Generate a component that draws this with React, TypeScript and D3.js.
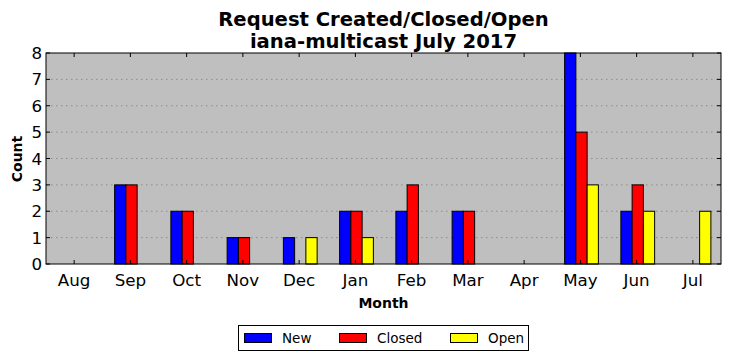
import React from 'react';
import { scaleLinear } from 'd3';

const months = ['Aug', 'Sep', 'Oct', 'Nov', 'Dec', 'Jan', 'Feb', 'Mar', 'Apr', 'May', 'Jun', 'Jul'];
const newCounts = [0, 3, 2, 1, 1, 2, 2, 2, 0, 8, 2, 0];
const closedCounts = [0, 3, 2, 1, 0, 2, 3, 2, 0, 5, 3, 0];
const openCounts = [0, 0, 0, 0, 1, 1, 0, 0, 0, 3, 2, 2];
const yTicks = [0, 1, 2, 3, 4, 5, 6, 7, 8];

const series = [
  { name: 'New', values: newCounts, color: '#0000ff', offset: -0.28 },
  { name: 'Closed', values: closedCounts, color: '#ff0000', offset: -0.08 },
  { name: 'Open', values: openCounts, color: '#ffff00', offset: 0.12 },
];

const left = 46;
const right = 721;
const top = 53;
const bottom = 264;
const font = 'DejaVu Sans';

const App = () => {
  const x = scaleLinear().domain([-0.5, 11.5]).range([left, right]);
  const y = scaleLinear().domain([0, 8]).range([bottom, top]);
  const barW = x(0.2) - x(0);

  return (
    <svg width={731} height={361} style={{ position: 'absolute', left: 0, top: 0 }}>
      <rect width={731} height={361} fill='#ffffff' />
      <rect x={left} y={top} width={right - left} height={bottom - top} fill='#bfbfbf' />
      {yTicks.slice(1, -1).map((t) => (
        <line
          key={'g' + t}
          x1={left}
          x2={right}
          y1={y(t)}
          y2={y(t)}
          stroke='#808080'
          strokeWidth={0.8}
          strokeDasharray='1.5,3.5'
        />
      ))}
      {series.map((s) =>
        s.values.map((v, i) => (
          <rect
            key={s.name + i}
            x={x(i + s.offset)}
            y={y(v)}
            width={barW}
            height={y(0) - y(v)}
            fill={s.color}
            stroke='#000000'
            strokeWidth={1}
          />
        ))
      )}
      {/* ticks, inside on all sides */}
      {months.map((m, i) => (
        <g key={m}>
          <line x1={x(i)} x2={x(i)} y1={bottom} y2={bottom - 4} stroke='#000' />
          <line x1={x(i)} x2={x(i)} y1={top} y2={top + 4} stroke='#000' />
          <text x={x(i)} y={286} fontFamily={font} fontSize={16.7} textAnchor='middle'>
            {m}
          </text>
        </g>
      ))}
      {yTicks.map((t) => (
        <g key={'y' + t}>
          <line x1={left} x2={left + 4} y1={y(t)} y2={y(t)} stroke='#000' />
          <line x1={right} x2={right - 4} y1={y(t)} y2={y(t)} stroke='#000' />
          <text x={42} y={y(t) + 6} fontFamily={font} fontSize={16.7} textAnchor='end'>
            {t}
          </text>
        </g>
      ))}
      <rect x={left} y={top} width={right - left} height={bottom - top} fill='none' stroke='#000' strokeWidth={1} />
      <text x={383.5} y={26} fontFamily={font} fontSize={19.6} fontWeight='bold' textAnchor='middle'>
        Request Created/Closed/Open
      </text>
      <text x={383.5} y={48} fontFamily={font} fontSize={19.6} fontWeight='bold' textAnchor='middle'>
        iana-multicast July 2017
      </text>
      <text x={383.5} y={308} fontFamily={font} fontSize={14} fontWeight='bold' textAnchor='middle'>
        Month
      </text>
      <text
        transform='translate(22,159) rotate(-90)'
        fontFamily={font}
        fontSize={14}
        fontWeight='bold'
        textAnchor='middle'
      >
        Count
      </text>
      <rect x={238.5} y={325.5} width={290} height={25} fill='#fff' stroke='#000' strokeWidth={1} />
      {series.map((s, i) => {
        const lx = [244, 339, 450][i];
        return (
          <g key={'l' + s.name}>
            <rect x={lx + 0.5} y={333.5} width={27} height={9} fill={s.color} stroke='#000' strokeWidth={1} />
            <text x={lx + 38} y={343} fontFamily={font} fontSize={13.5}>
              {s.name}
            </text>
          </g>
        );
      })}
    </svg>
  );
};

export default App;
